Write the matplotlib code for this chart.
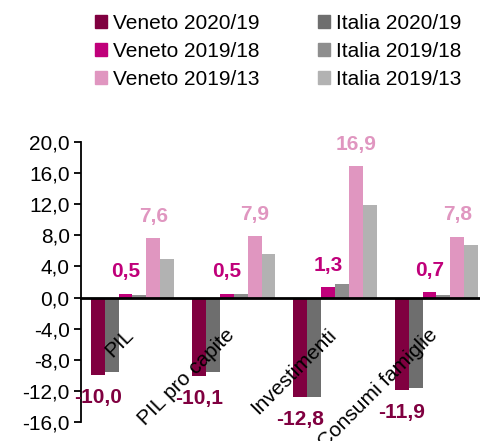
import numpy as np
import matplotlib.pyplot as plt
from matplotlib.patches import Patch
import matplotlib.transforms as mtransforms

plt.rcParams['font.family'] = ['Liberation Sans', 'DejaVu Sans']

categories = ["PIL", "PIL pro capite", "Investimenti", "Consumi famiglie"]
veneto_20_19 = [-10.0, -10.1, -12.8, -11.9]
italia_20_19 = [-9.6, -9.6, -12.8, -11.6]
veneto_19_18 = [0.5, 0.5, 1.3, 0.7]
italia_19_18 = [0.3, 0.5, 1.8, 0.3]
veneto_19_13 = [7.6, 7.9, 16.9, 7.8]
italia_19_13 = [4.9, 5.6, 11.9, 6.7]
yticks = np.arange(-16, 21, 4)

series = [
    ("Veneto 2020/19", veneto_20_19, "#800040", True),
    ("Italia 2020/19", italia_20_19, "#6E6E6E", False),
    ("Veneto 2019/18", veneto_19_18, "#C0007A", True),
    ("Italia 2019/18", italia_19_18, "#8E8E8E", False),
    ("Veneto 2019/13", veneto_19_13, "#E096C0", True),
    ("Italia 2019/13", italia_19_13, "#B2B2B2", False),
]

fs = 15
fig = plt.figure(figsize=(4.81, 4.41), dpi=100)
ax = fig.add_axes([0.168, 0.043, 0.832, 0.635])

x = np.arange(len(categories))
w = 0.137
for i, (name, vals, col, lab) in enumerate(series):
    pos = x + (i - 2.5) * w
    ax.bar(pos, vals, w, color=col, label=name)
    if lab:
        for px, v in zip(pos, vals):
            off = 9 if v >= 0 else -9
            ax.annotate(f"{v:.1f}".replace(".", ","), (px, v),
                        xytext=(0, off), textcoords="offset points",
                        ha="center", va="bottom" if v >= 0 else "top",
                        fontsize=fs, fontweight="bold", color=col)

ax.set_ylim(-16, 20)
ax.set_xlim(-0.51, 3.44)
ax.set_yticks(yticks)
ax.set_yticklabels([f"{t:.1f}".replace(".", ",") for t in yticks], fontsize=fs)
ax.tick_params(axis="y", direction="out", length=5, width=1.3, pad=3)

ax.spines["bottom"].set_position(("data", 0))
ax.spines["bottom"].set_linewidth(2)
ax.spines["left"].set_linewidth(1.3)
ax.spines["top"].set_visible(False)
ax.spines["right"].set_visible(False)

ax.set_xticks(x)
ax.set_xticklabels(categories, rotation=45, ha="right", va="top", fontsize=fs)
ax.tick_params(axis="x", length=0, pad=20)
shift = mtransforms.ScaledTranslation(5 / 100, 0, fig.dpi_scale_trans)
for t in ax.get_xticklabels():
    t.set_transform(t.get_transform() + shift)

order = [0, 2, 4, 1, 3, 5]
handles = [Patch(color=series[i][2]) for i in order]
labels = [series[i][0] for i in order]
fig.legend(handles, labels, loc="upper left", bbox_to_anchor=(0.198, 0.968),
           ncol=2, frameon=False, fontsize=fs, handlelength=0.58, handleheight=0.58,
           handletextpad=0.25, columnspacing=2.85, labelspacing=0.42, borderpad=0,
           borderaxespad=0)

fig.savefig("out.png", dpi=100)
